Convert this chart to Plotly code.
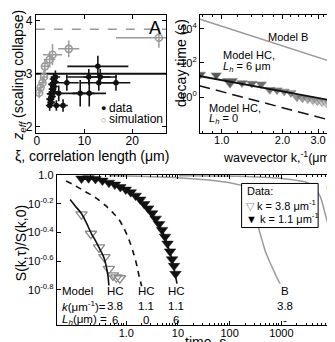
import plotly.graph_objects as go

# ---------------- Panel A data ----------------
data_xi = [2.7, 3.0, 4.1, 5.5, 2.8, 3.2, 3.0, 3.5, 4.6, 3.3, 3.6, 3.2, 3.8, 3.5, 3.9,
           6.3, 9.1, 11.0, 10.9, 12.8, 13.3, 13.0, 16.6]
data_z = [2.40, 2.46, 2.40, 2.40, 2.52, 2.57, 2.62, 2.66, 2.63, 2.71, 2.76, 2.80, 2.85, 2.90, 2.94,
          2.83, 2.63, 2.63, 2.94, 3.14, 2.94, 2.83, 2.83]
data_xi_err = [0.8, 0.8, 1.2, 1.0, 0.8, 0.8, 0.9, 1.0, 1.5, 0.8, 0.8, 0.8, 0.8, 0.8, 1.0,
               2.5, 3.0, 3.5, 4.5, 6.4, 3.5, 4.0, 3.0]
data_z_err = [0.10, 0.10, 0.10, 0.12, 0.12, 0.10, 0.15, 0.15, 0.15, 0.12, 0.15, 0.15, 0.15, 0.10, 0.12,
              0.15, 0.25, 0.25, 0.15, 0.20, 0.15, 0.15, 0.15]

sim_xi = [0.5, 0.8, 1.2, 1.5, 1.7, 2.7, 3.3, 6.7, 25.6]
sim_z = [2.64, 2.74, 2.83, 2.94, 3.14, 3.27, 3.36, 3.47, 3.68]
sim_xi_err = [0.4, 0.5, 0.6, 0.7, 0.8, 1.2, 2.0, 2.2, 9.0]
sim_z_err = [0.10, 0.10, 0.10, 0.12, 0.12, 0.15, 0.20, 0.16, 0.19]

zeff_lines = [3.0, 3.84]

# ---------------- Panel B data ----------------
B_k = [0.785, 0.94, 1.1, 1.26, 1.41, 1.57, 1.73, 1.88, 2.04, 2.2, 2.36, 2.51, 2.67,
       2.83, 2.98, 3.14, 3.3, 3.45, 3.61, 3.77]
B_tau = [21.4, 19.5, 8.1, 6.8, 6.3, 5.8, 2.75, 2.6, 2.2, 1.8, 1.0, 0.87, 0.78,
         0.68, 0.59, 0.51, 0.46, 0.40, 0.35, 0.27]
HC6_k = [0.775, 3.9]
HC6_tau = [17.4, 0.51]
HC0_k = [0.775, 3.69]
HC0_tau = [4.7, 0.037]
MB_k = [0.775, 3.9]
MB_tau = [37000, 79]

# ---------------- Panel C data ----------------
d38_t = [0.136, 0.207, 0.296, 0.378, 0.460, 0.550, 0.643, 0.750]
d38_S = [0.533, 0.390, 0.313, 0.268, 0.222, 0.200, 0.194, 0.191]

d11_t = [0.136, 0.186, 0.253, 0.345, 0.461, 0.601, 0.767, 0.978, 1.22, 1.52, 1.86, 2.22,
         2.65, 3.16, 3.69, 4.31, 4.92, 5.62, 6.28, 7.02, 7.67, 8.38, 8.95]
d11_S = [0.945, 0.950, 0.940, 0.915, 0.885, 0.858, 0.825, 0.792, 0.760, 0.719, 0.675, 0.629,
         0.586, 0.542, 0.497, 0.456, 0.415, 0.372, 0.333, 0.294, 0.259, 0.233, 0.205]

hc38_t = [0.0819, 0.1045, 0.1364, 0.170, 0.212, 0.253, 0.296, 0.345, 0.378, 0.412, 0.441, 0.461]
hc38_S = [0.675, 0.605, 0.538, 0.463, 0.390, 0.350, 0.313, 0.281, 0.259, 0.229, 0.199, 0.170]

hc11_0_t = [0.0687, 0.1045, 0.163, 0.253, 0.395, 0.562, 0.733, 0.915, 1.142, 1.363, 1.557, 1.778, 1.985]
hc11_0_S = [0.909, 0.840, 0.765, 0.697, 0.614, 0.542, 0.486, 0.421, 0.350, 0.290, 0.244, 0.196, 0.168]

hc11_6_t = [0.125, 0.194, 0.303, 0.471, 0.733, 1.142, 1.627, 2.22, 2.894, 3.776, 4.71, 5.62,
            6.71, 7.67, 8.57, 9.57]
hc11_6_S = [0.935, 0.940, 0.918, 0.881, 0.827, 0.765, 0.697, 0.624, 0.559, 0.486, 0.422, 0.366,
            0.303, 0.256, 0.215, 0.175]

mb38_t = [0.471, 1.778, 8.38, 39.5, 95.7, 170, 253, 361, 420, 486, 590, 702, 820, 944]
mb38_S = [0.991, 0.983, 0.960, 0.923, 0.887, 0.848, 0.614, 0.429, 0.355, 0.296, 0.250, 0.216, 0.193, 0.175]

mb11_t = [10.45, 149, 875, 3306, 5546, 7430, 10000, 12480, 14560]
mb11_S = [0.991, 0.983, 0.953, 0.881, 0.719, 0.499, 0.346, 0.253, 0.190]

W, H = 335, 342
FONT = "Liberation Sans"


def px(x):
    return x / W


def py(y):
    return 1 - y / H


fig = go.Figure()

# Panel A traces
fig.add_trace(go.Scatter(
    x=sim_xi, y=sim_z, mode="markers", xaxis="x", yaxis="y",
    marker=dict(symbol="circle-open", size=7, color="#9a9a9a", line=dict(width=1.6, color="#9a9a9a")),
    error_x=dict(type="data", array=sim_xi_err, color="#9a9a9a", thickness=1.5, width=0),
    error_y=dict(type="data", array=sim_z_err, color="#9a9a9a", thickness=1.5, width=0),
))
fig.add_trace(go.Scatter(
    x=data_xi, y=data_z, mode="markers", xaxis="x", yaxis="y",
    marker=dict(symbol="circle", size=5.5, color="#111"),
    error_x=dict(type="data", array=data_xi_err, color="#111", thickness=1.6, width=0),
    error_y=dict(type="data", array=data_z_err, color="#111", thickness=1.6, width=0),
))

# Panel B traces
B_colors = ['#111', '#111', '#1a1a1a', '#222', '#2a2a2a', '#333', '#3c3c3c', '#444', '#505050',
            '#5c5c5c', '#686868', '#777', '#858585', '#939393', '#a0a0a0', '#adadad', '#bababa',
            '#c6c6c6', '#d2d2d2', '#dddddd']
B_sizes = [9 if abs(k - 1.1) > 0.01 else 13 for k in B_k]
fig.add_trace(go.Scatter(
    x=MB_k, y=MB_tau, mode="lines", xaxis="x2", yaxis="y2",
    line=dict(color="#9a9a9a", width=1.5)))
fig.add_trace(go.Scatter(
    x=HC0_k, y=HC0_tau, mode="lines", xaxis="x2", yaxis="y2",
    line=dict(color="#111", width=1.5, dash="11px,6px")))
fig.add_trace(go.Scatter(
    x=B_k, y=B_tau, mode="markers", xaxis="x2", yaxis="y2",
    marker=dict(symbol="triangle-down", size=B_sizes, color=B_colors, line=dict(color="#555", width=0.6))))
fig.add_trace(go.Scatter(
    x=HC6_k, y=HC6_tau, mode="lines", xaxis="x2", yaxis="y2",
    line=dict(color="#111", width=1.8)))

# Panel C traces
fig.add_trace(go.Scatter(x=mb38_t, y=mb38_S, mode="lines", xaxis="x3", yaxis="y3",
                         line=dict(color="#9a9a9a", width=1.5)))
fig.add_trace(go.Scatter(x=mb11_t, y=mb11_S, mode="lines", xaxis="x3", yaxis="y3",
                         line=dict(color="#9a9a9a", width=1.5, shape="spline", smoothing=0.6)))
fig.add_trace(go.Scatter(x=hc11_0_t, y=hc11_0_S, mode="lines", xaxis="x3", yaxis="y3",
                         line=dict(color="#111", width=1.6, dash="6px,5px", shape="spline", smoothing=0.8)))
fig.add_trace(go.Scatter(x=d38_t, y=d38_S, mode="markers", xaxis="x3", yaxis="y3",
                         marker=dict(symbol="triangle-down-open", size=10, color="#8a8a8a",
                                     line=dict(width=1.3, color="#8a8a8a"))))
fig.add_trace(go.Scatter(x=d11_t, y=d11_S, mode="markers", xaxis="x3", yaxis="y3",
                         marker=dict(symbol="triangle-down", size=10, color="#111",
                                     line=dict(width=0.5, color="#111"))))
fig.add_trace(go.Scatter(x=hc38_t, y=hc38_S, mode="lines", xaxis="x3", yaxis="y3",
                         line=dict(color="#111", width=1.6, shape="spline", smoothing=0.8)))
fig.add_trace(go.Scatter(x=hc11_6_t, y=hc11_6_S, mode="lines", xaxis="x3", yaxis="y3",
                         line=dict(color="#111", width=1.6, shape="spline", smoothing=0.8)))

axis_common = dict(showline=True, linecolor="black", linewidth=1, mirror="ticks", ticks="inside",
                   ticklen=4, tickcolor="black", showgrid=False, zeroline=False,
                   tickfont=dict(size=11, family=FONT, color="black"))

C_minor = [v * m for m in [0.1, 1, 10, 100, 1000] for v in range(2, 10)] + [10000]
C_minor = [v for v in C_minor if v >= 0.05]

fig.update_layout(
    width=W, height=H, margin=dict(l=0, r=0, t=0, b=0),
    paper_bgcolor="white", plot_bgcolor="white", showlegend=False,
    font=dict(family=FONT, color="black"),
    xaxis=dict(domain=[px(26), px(157)], range=[-0.2, 27.1], tickvals=[0, 10, 20],
               anchor="y", **axis_common),
    yaxis=dict(domain=[py(121), py(1)], range=[1.89, 4.11], tickvals=[2, 3, 4],
               anchor="x", **axis_common),
    xaxis2=dict(domain=[px(191), px(333)], type="log", range=[-0.108, 0.591],
                tickvals=[1, 2, 3], ticktext=["1.0", "2.0", "3.0"], anchor="y2",
                minor=dict(ticks="inside", ticklen=2, tickcolor="black",
                           tickvals=[0.8, 0.9, 1.2, 1.4, 1.6, 1.8, 2.2, 2.4, 2.6, 2.8, 3.2, 3.4, 3.6, 3.8]),
                **axis_common),
    yaxis2=dict(domain=[py(121), py(1)], type="log", range=[-2.057, 4.8],
                tickvals=[1, 100, 10000],
                ticktext=["10<sup>0</sup>", "10<sup>2</sup>", "10<sup>4</sup>"], anchor="x2",
                **axis_common),
    xaxis3=dict(domain=[px(47), px(333)], type="log", range=[-1.346, 4.154],
                tickvals=[1, 10, 100, 1000], ticktext=["1.0", "10", "100", "1000"], anchor="y3",
                minor=dict(ticks="inside", ticklen=2, tickcolor="black", tickvals=C_minor),
                **axis_common),
    yaxis3=dict(domain=[py(318), py(164)], type="log", range=[-1.048, 0.003],
                tickvals=[1, 10 ** -0.2, 10 ** -0.4, 10 ** -0.6, 10 ** -0.8],
                ticktext=["1.0", "10<sup>-0.2</sup>", "10<sup>-0.4</sup>", "10<sup>-0.6</sup>",
                          "10<sup>-0.8</sup>"], anchor="x3",
                **axis_common),
)
for ax in ("xaxis", "xaxis2", "xaxis3"):
    try:
        fig.layout[ax].ticklabelstandoff = -3
    except Exception:
        pass
fig.layout.xaxis.tickfont.size = 12
fig.layout.yaxis.tickfont.size = 12

shapes = []
for v, col, dash, wd in [(zeff_lines[0], "#111", "solid", 2), (zeff_lines[1], "#9a9a9a", "dash", 1.5)]:
    shapes.append(dict(type="line", xref="x domain", yref="y", x0=0, x1=1, y0=v, y1=v,
                       line=dict(color=col, width=wd, dash=dash), layer="below"))
# legend box in C
shapes.append(dict(type="rect", xref="paper", yref="paper", x0=px(233), x1=px(310), y0=py(218), y1=py(173),
                   line=dict(color="black", width=1), fillcolor="white", layer="above"))
fig.update_layout(shapes=shapes)

anns = []


def ann(text, x, y, size=11, xanchor="center", angle=0, color="black"):
    anns.append(dict(text=text, x=px(x), y=py(y), xref="paper", yref="paper", showarrow=False,
                     xanchor=xanchor, yanchor="middle", textangle=angle,
                     font=dict(size=size, family=FONT, color=color)))


# Panel A text
ann("A", 146, 14, 18)
ann("●", 94, 96, 9, color="#111")
ann("data", 98, 96, 12, xanchor="left")
ann("○", 94, 108, 9, color="#8a8a8a")
ann("simulation", 98, 107, 12, xanchor="left")
ann("ξ, correlation length (μm)", 82, 145, 14)
ann("<i>z</i><sub><i>eff</i></sub> (scaling collapse)", 9, 62, 14, angle=-90)

# Panel B text
ann("B", 329, 14, 18)
ann("Model B", 280, 23, 11)
ann("Model HC,", 212, 42, 11, xanchor="left")
ann("<i>L<sub>h</sub></i> = 6 μm", 212, 54, 11, xanchor="left")
ann("Model HC,", 198, 96, 11, xanchor="left")
ann("<i>L<sub>h</sub></i> = 0", 198, 107, 11, xanchor="left")
ann("decay time (s)", 172, 50, 14, angle=-90)
ann("wavevector k,<sup>-1</sup>(μm)", 212, 146, 12.5, xanchor="left")

# Panel C text
ann("C", 324, 178, 18)
ann("Data:", 236, 181, 11, xanchor="left")
ann("<span style='color:#8a8a8a'>▽</span> k = 3.8 μm<sup>-1</sup>", 235, 195, 11, xanchor="left")
ann("▼ k = 1.1 μm<sup>-1</sup>", 235, 208, 11, xanchor="left")
ann("Model", 50, 283, 11.5, xanchor="left")
ann("<i>k</i>(μm<sup>-1</sup>)=", 50, 298, 11.5, xanchor="left")
ann("<i>L<sub>h</sub></i>(μm) =", 50, 312, 11.5, xanchor="left")
cols = [(106, "HC", "3.8", "6"), (137, "HC", "1.1", "0"), (167, "HC", "1.1", "6"),
        (277, "B", "3.8", "-"), (327, "B", "1.1", "-")]
for cx, a, b, c in cols:
    ann(a, cx, 283, 11.5)
    ann(b, cx, 298, 11.5)
    ann(c, cx, 312, 11.5)
ann("time, s", 197, 335, 14)
ann("S(k,τ)/S(k,0)", 11, 234, 14, angle=-90)

fig.update_layout(annotations=anns)

fig.write_html("out.html")
